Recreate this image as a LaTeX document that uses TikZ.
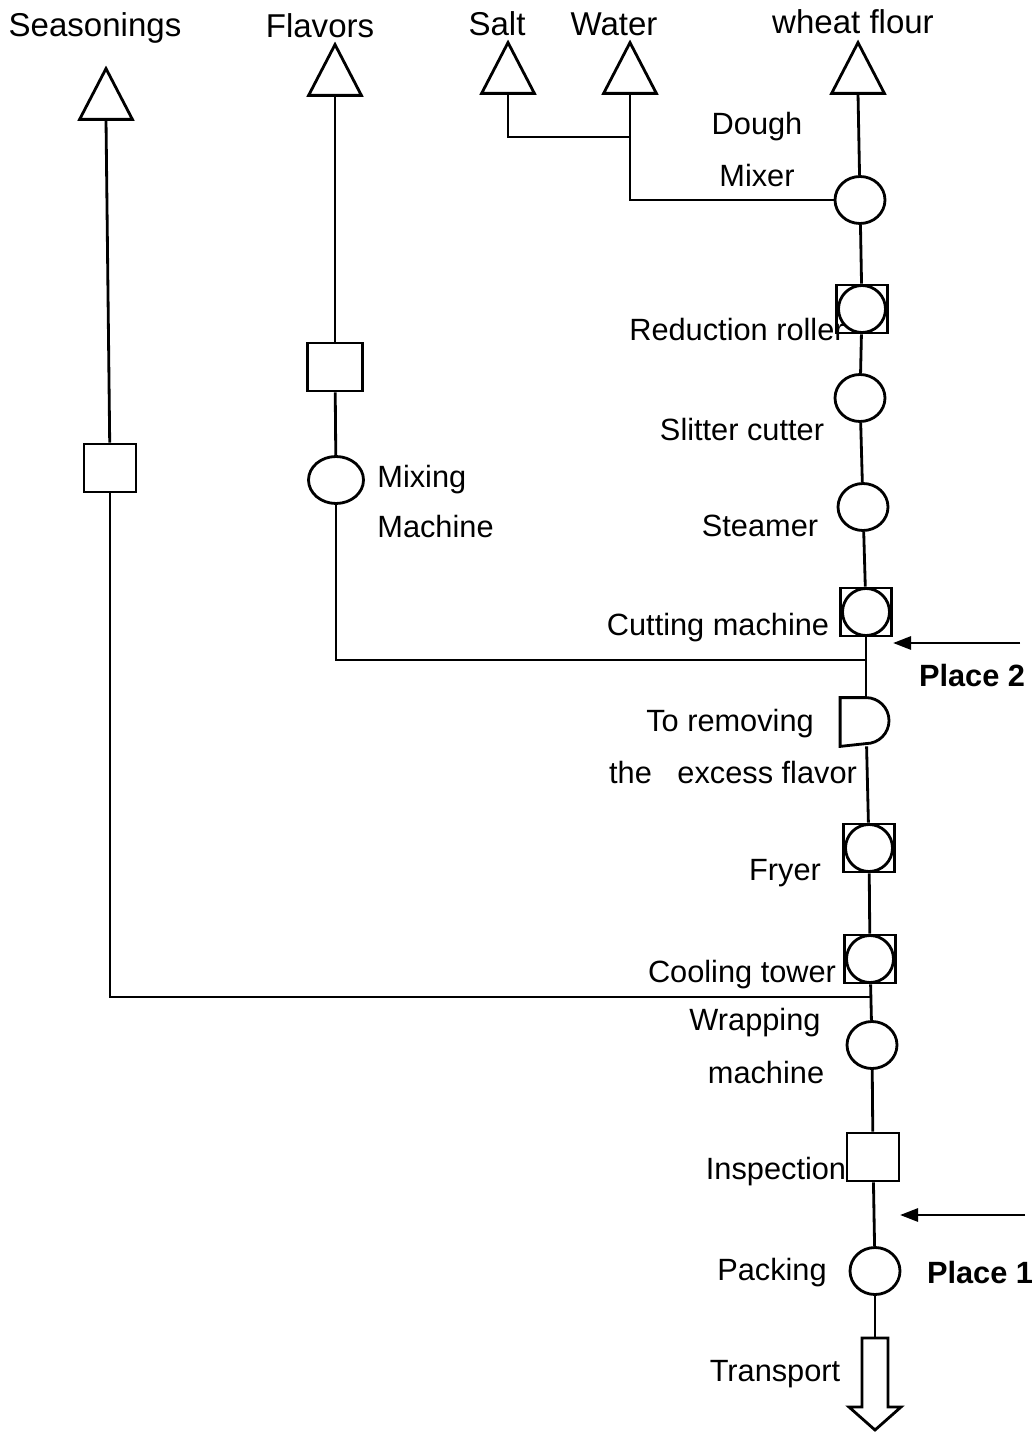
\documentclass[tikz,border=0pt]{standalone}
\usepackage{fontspec}
\setmainfont{Liberation Sans}
\usepackage{tikz}
\usetikzlibrary{arrows.meta,shapes.geometric}

\begin{document}
\begin{tikzpicture}[
  x=0.02cm, y=-0.02cm,
  line width=1.6pt,
  font=\fontsize{17.5}{20}\selectfont,
  feed/.style={minimum width=1cm, minimum height=0.96cm, inner sep=0pt},
  oper/.style={draw, ellipse, minimum width=1cm, minimum height=0.94cm, inner sep=0pt},
  insp/.style={draw, rectangle, minimum width=1.04cm, minimum height=0.96cm, inner sep=0pt},
  dual/.style={draw, rectangle, minimum width=1.02cm, minimum height=0.96cm, inner sep=0pt},
  hold/.style={minimum width=0.98cm, minimum height=0.92cm, inner sep=0pt},
  place/.style={-{Triangle[length=3.6mm,width=2.6mm]}},
  head/.style={font=\fontsize{18.8}{22}\selectfont, inner sep=0pt},
  txt/.style={inner sep=0pt},
  tag/.style={font=\fontsize{17.5}{20}\selectfont\bfseries, inner sep=0pt}
]
  \useasboundingbox (0,0) rectangle (1035,1432);

  % raw materials
  \node[feed] (seas) at (106,94) {};
  \node[feed] (flav) at (335,70) {};
  \node[feed] (salt) at (508,68) {};
  \node[feed] (water) at (630,68) {};
  \node[feed] (flour) at (858,68) {};
  \foreach \n in {seas,flav,salt,water,flour} {
    \draw (\n.south west) -- (\n.north) -- (\n.south east) -- cycle;
  }
  \node[head] (seast) at (95,28) {Seasonings};
  \node[head] (flavt) at (320,26) {Flavors};
  \node[head] (saltt) at (497,24) {Salt};
  \node[head] (watert) at (614,24) {Water};
  \node[head] (flourt) at (853,22) {wheat flour};

  % side lines
  \node[insp] (seasq) at (110,468) {};
  \node[insp, minimum width=1.1cm] (flavq) at (335,367) {};
  \node[oper, minimum width=1.1cm] (flavm) at (336,480) {};

  % main line
  \node[oper] (mix) at (860,200) {};
  \node[dual] (roll) at (862,309) {};
  \node[oper] (slit) at (860,398) {};
  \node[oper] (steam) at (863,507) {};
  \node[dual] (cut) at (866,612) {};
  \node[hold] (rem) at (866,722) {};
  \node[dual] (fry) at (869,848) {};
  \node[dual] (cool) at (870,959) {};
  \node[oper] (wrap) at (872,1045) {};
  \node[insp] (check) at (873,1157) {};
  \node[oper] (pack) at (875,1271) {};
  \coordinate (trans) at (875,1338);
  \foreach \n in {roll,cut,fry,cool} {
    \draw (\n) circle[radius=0.47cm];
  }
  \draw (rem.north west) -- (rem.north) arc[start angle=90, end angle=-90, radius=0.46cm] -- (rem.south west) -- cycle;
  \draw (trans) ++(-13,0) -- ++(0,69) -- ++(-13,0) -- ++(26,23) -- ++(26,-23) -- ++(-13,0) -- ++(0,-69) -- cycle;

  \coordinate (sw) at (630,137);
  \coordinate (j2) at (866,660);
  \coordinate (j1) at (871,997);

  \draw (salt.south) |- (sw);
  \draw (water.south) |- (mix.west);
  \draw (flour.south) -- (mix);
  \draw (mix) -- (roll);
  \draw (roll) -- (slit);
  \draw (slit) -- (steam);
  \draw (steam) -- (cut);
  \draw (cut) -- (rem);
  \draw (rem) -- (fry);
  \draw (fry) -- (cool);
  \draw (cool) -- (wrap);
  \draw (wrap) -- (check);
  \draw (check) -- (pack);
  \draw (pack) -- (trans);

  \draw (flav.south) -- (flavq);
  \draw (flavq) -- (flavm);
  \draw (flavm.south) |- (j2);
  \draw (seas.south) -- (seasq);
  \draw (seasq.south) |- (j1);

  % places
  \coordinate (p2a) at (1020,643);
  \coordinate (p2b) at (893,643);
  \coordinate (p1a) at (1025,1215);
  \coordinate (p1b) at (900,1215);
  \draw[place] (p2a) -- (p2b);
  \draw[place] (p1a) -- (p1b);
  \node[tag] (p2t) at (972,676) {Place 2};
  \node[tag] (p1t) at (980,1272) {Place 1};

  % labels
  \node[txt] (mixt1) at (757,127) {Dough};
  \node[txt] (mixt2) at (757,176) {Mixer};
  \node[txt] (rollt) at (737,330) {Reduction roller};
  \node[txt] (slitt) at (742,430) {Slitter cutter};
  \node[txt, anchor=west] (flavm1) at (376,480) {Mixing};
  \node[txt, anchor=west] (flavm2) at (376,527) {Machine};
  \node[txt] (steamt) at (760,526) {Steamer};
  \node[txt] (cutt) at (718,628) {Cutting machine};
  \node[txt] (remt1) at (730,724) {To removing};
  \node[txt] (remt2) at (733,773) {the\ \ \ excess flavor};
  \node[txt] (fryt) at (785,873) {Fryer};
  \node[txt] (coolt) at (742,975) {Cooling tower};
  \node[txt] (wrapt1) at (755,1023) {Wrapping};
  \node[txt] (wrapt2) at (766,1072) {machine};
  \node[txt] (checkt) at (776,1172) {Inspection};
  \node[txt] (packt) at (772,1273) {Packing};
  \node[txt] (transt) at (775,1374) {Transport};
\end{tikzpicture}
\end{document}
